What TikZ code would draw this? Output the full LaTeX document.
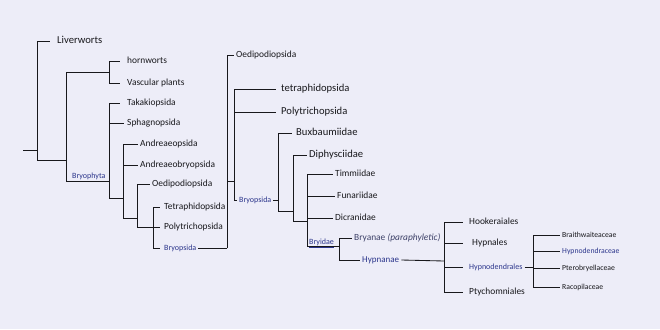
\documentclass[tikz,border=0pt]{standalone}
\usepackage{fontspec}
\setmainfont{Carlito}
\definecolor{bg}{RGB}{237,237,248}
\definecolor{ink}{RGB}{24,24,28}
\definecolor{rankblue}{RGB}{44,54,140}
\definecolor{grayblue}{RGB}{62,66,105}
\tikzset{
  taxon/.style={anchor=west, inner xsep=2pt, inner ysep=1pt, text height=1.5ex, text depth=.3ex, text=ink, font=\fontsize{9.4}{10}\selectfont},
  bigtaxon/.style={taxon, font=\fontsize{10.6}{12}\selectfont},
  ranklbl/.style={taxon, text=rankblue, font=\fontsize{8}{9}\selectfont},
  famtaxon/.style={taxon, font=\fontsize{7.7}{9}\selectfont},
  branch/.style={draw=ink, line width=0.85pt},
  lgap/.style={shorten >=#1pt},
}

\begin{document}
\begin{tikzpicture}[x=1pt,y=-1pt]
  \useasboundingbox[fill=bg] (0,0) rectangle (660,329);
  % first tree
  \coordinate (r0) at (23,150);
  \coordinate (n1) at (37,150);
  \coordinate (n2) at (66,160);
  \coordinate (n3) at (109,72);
  \coordinate (n4) at (109,181);
  \coordinate (n5) at (123,198);
  \coordinate (n6) at (137,218);
  \coordinate (n7) at (153,227);
  \node[bigtaxon] (liv) at (55,41) {Liverworts};
  \node[taxon] (horn) at (125,61) {hornworts};
  \node[taxon] (vasc) at (125,83) {Vascular plants};
  \node[taxon] (taka) at (125,103) {Takakiopsida};
  \node[taxon] (sphag) at (125,123) {Sphagnopsida};
  \node[taxon] (andr) at (138,144) {Andreaeopsida};
  \node[taxon] (andrb) at (138,165) {Andreaeobryopsida};
  \node[taxon] (oedA) at (150,184) {Oedipodiopsida};
  \node[taxon] (tetA) at (162,207) {Tetraphidopsida};
  \node[taxon] (polA) at (162,227) {Polytrichopsida};
  \node[ranklbl] (bryopA) at (162,248) {Bryopsida};
  \node[ranklbl, anchor=south west, inner sep=1pt] (bryoph) at (71,181) {Bryophyta};
  \draw[branch] (r0) -- (n1);
  \draw[branch, lgap=5] (n1) |- (liv.west);
  \draw[branch] (n1) |- (n2);
  \draw[branch] (n2) |- (n3);
  \draw[branch] (n2) |- (n4);
  \draw[branch, lgap=5] (n3) |- (horn.west);
  \draw[branch, lgap=5] (n3) |- (vasc.west);
  \draw[branch, lgap=5] (n4) |- (taka.west);
  \draw[branch, lgap=1] (n4) |- (sphag.west);
  \draw[branch] (n4) |- (n5);
  \draw[branch] (n5) |- (andr.west);
  \draw[branch] (n5) |- (andrb.west);
  \draw[branch] (n5) |- (n6);
  \draw[branch] (n6) |- (oedA.west);
  \draw[branch] (n6) |- (n7);
  \draw[branch, lgap=2] (n7) |- (tetA.west);
  \draw[branch, lgap=2] (n7) |- (polA.west);
  \draw[branch, lgap=2] (n7) |- (bryopA.west);
  % second tree
  \coordinate (m1) at (227,248);
  \coordinate (m2) at (234,181);
  \coordinate (m3) at (278,200);
  \coordinate (m4) at (293,211);
  \coordinate (m5) at (307,221);
  \coordinate (m6) at (339,246);
  \coordinate (m7) at (444,261);
  \coordinate (m8) at (533,267);
  \node[taxon] (oedB) at (234,55) {Oedipodiopsida};
  \node[bigtaxon] (tetB) at (279,89) {tetraphidopsida};
  \node[bigtaxon] (polB) at (279,112) {Polytrichopsida};
  \node[ranklbl] (bryopB) at (237,200) {Bryopsida};
  \node[bigtaxon] (buxb) at (294,133) {Buxbaumiidae};
  \node[bigtaxon] (diph) at (307,155) {Diphysciidae};
  \node[taxon] (timm) at (333,174) {Timmiidae};
  \node[taxon] (funa) at (335,196) {Funariidae};
  \node[taxon] (dicr) at (333,218) {Dicranidae};
  \node[ranklbl, anchor=south west, inner sep=1pt] (bryid) at (308,247) {\underline{Bryidae}};
  \node[taxon, text=grayblue] (bryan) at (352,238) {Bryanae \textit{(paraphyletic)}};
  \node[ranklbl, font=\fontsize{9}{10}\selectfont] (hypnan) at (360,260) {Hypnanae};
  \node[taxon] (hook) at (467,222) {Hookeraiales};
  \node[taxon] (hypnl) at (470,243) {Hypnales};
  \node[ranklbl] (hypnod) at (467,267) {Hypnodendrales};
  \node[taxon] (ptych) at (467,292) {Ptychomniales};
  \node[famtaxon] (brait) at (560,235) {Braithwaiteaceae};
  \node[famtaxon, text=rankblue] (hypdc) at (560,251) {Hypnodendraceae};
  \node[famtaxon] (ptero) at (560,268) {Pterobryellaceae};
  \node[famtaxon] (racop) at (560,287) {Racopilaceae};
  \draw[branch] (bryopA.east) -- (m1);
  \draw[branch] (m1) |- (oedB.west);
  \draw[branch] (m1) |- (m2);
  \draw[branch, lgap=3] (m2) |- (tetB.west);
  \draw[branch, lgap=3] (m2) |- (polB.west);
  \draw[branch] (m2) |- (bryopB.west);
  \draw[branch] (bryopB.east) -- (m3);
  \draw[branch, lgap=2] (m3) |- (buxb.west);
  \draw[branch] (m3) |- (m4);
  \draw[branch] (m4) |- (diph.west);
  \draw[branch] (m4) |- (m5);
  \draw[branch] (m5) |- (timm.west);
  \draw[branch] (m5) |- (funa.west);
  \draw[branch] (m5) |- (dicr.west);
  \draw[branch] (m5) |- (m6);
  \draw[branch] (m6) |- (bryan.west);
  \draw[branch] (m6) |- (hypnan.west);
  \draw[branch] (hypnan.east) -- (m7);
  \draw[branch, lgap=4] (m7) |- (hook.west);
  \draw[branch, lgap=7] (m7) |- (hypnl.west);
  \draw[branch, lgap=4] (m7) |- (hypnod.west);
  \draw[branch, lgap=4] (m7) |- (ptych.west);
  \draw[branch] (hypnod.east) -- (m8);
  \draw[branch] (m8) |- (brait.west);
  \draw[branch] (m8) |- (hypdc.west);
  \draw[branch] (m8) |- (ptero.west);
  \draw[branch] (m8) |- (racop.west);
\end{tikzpicture}
\end{document}
